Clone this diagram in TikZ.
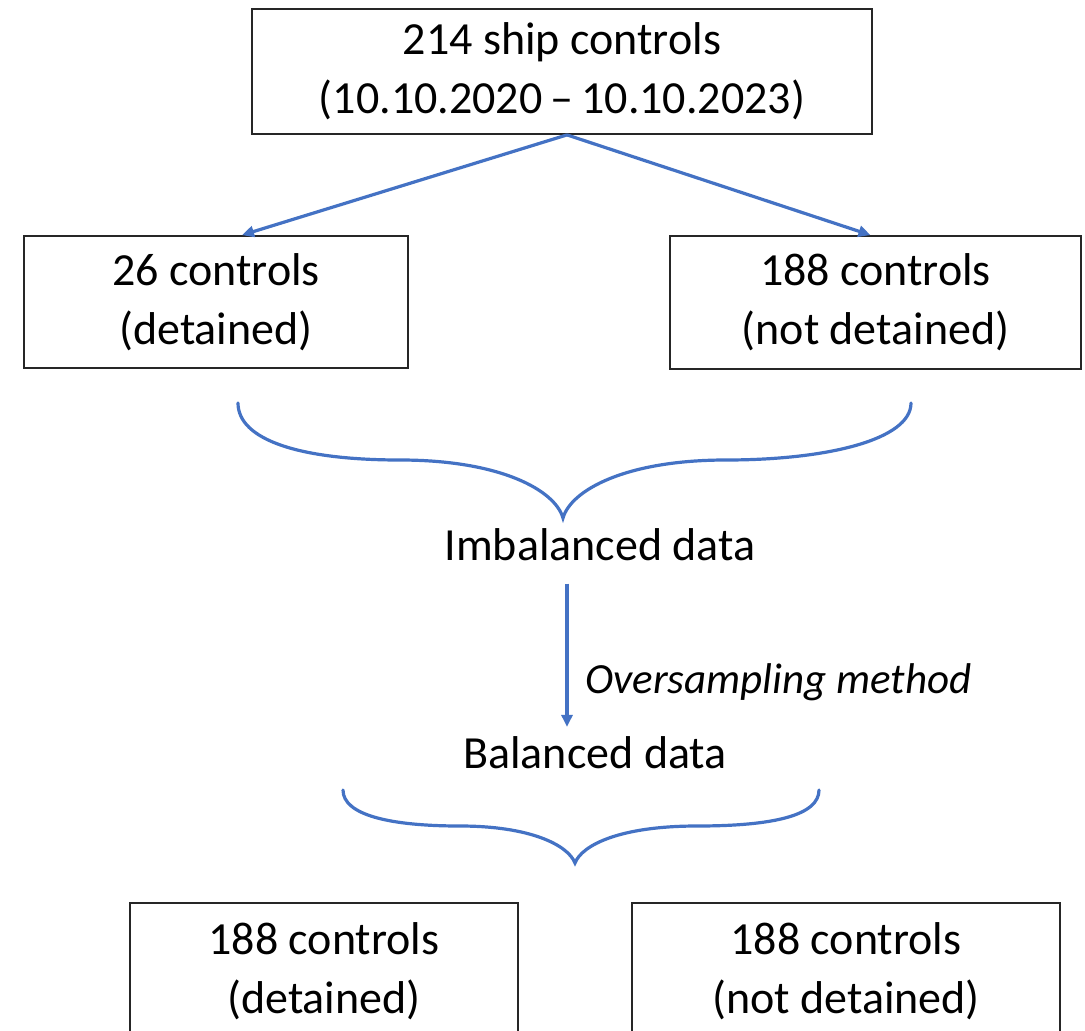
\documentclass[tikz,border=0pt]{standalone}
\usepackage{fontspec}
\setmainfont{Carlito}
\usetikzlibrary{arrows.meta}
\definecolor{flowblue}{RGB}{68,114,196}
\begin{document}
\begin{tikzpicture}[x=1pt,y=-1pt,
  box/.style={draw=black!85, line width=1.8pt, align=center, inner sep=0pt, font=\fontsize{46}{59}\selectfont},
  lbl/.style={inner sep=0pt, font=\fontsize{46}{59}\selectfont},
  conn/.style={draw=flowblue, line width=3.2pt, -{Triangle[length=12pt,width=11pt]}},
  bracestyle/.style={draw=flowblue, line width=3.2pt, line cap=round}]
\clip (0,0) rectangle (1085,1031);
\fill[white] (0,0) rectangle (1085,1031);
% boxes
\node[box, minimum width=620, minimum height=125] (top) at (562,71.5) {214 ship controls\\(10.10.2020\hspace{8pt}–\hspace{8pt}10.10.2023)};
\node[box, minimum width=384, minimum height=132] (ml) at (216,302) {26 controls\\(detained)};
\node[box, minimum width=411, minimum height=133] (mr) at (875.5,302.5) {188 controls\\(not detained)};
\node[box, minimum width=388, minimum height=137] (bl) at (324,971.5) {188 controls\\(detained)};
\node[box, minimum width=428, minimum height=137] (br) at (846,971.5) {188 controls\\(not detained)};
% labels
\node[lbl, anchor=base] (imb) at (600,560) {Imbalanced data};
\node[lbl, anchor=base] (bal) at (595,768) {Balanced data};
\node[lbl, font=\fontsize{43}{50}\selectfont\itshape, anchor=base west] (ovs) at (585,693) {Oversampling method};
% connectors
\draw[conn] ([xshift=5pt]top.south) -- ([xshift=26pt]ml.north);
\draw[conn] ([xshift=5pt]top.south) -- ([xshift=-5pt]mr.north);
\draw[conn] ([shift={(-33,23)}]imb.south) -- ([shift={(-28,-9)}]bal.north);
% braces
\draw[bracestyle] (238,403) .. controls (238,440) and (300,460) .. (400,460)
  .. controls (500,460) and (555,490) .. (563,518)
  .. controls (571,490) and (626,460) .. (726,460)
  .. controls (826,460) and (911,440) .. (911,403);
\draw[bracestyle] (343,790) .. controls (343,815) and (390,826) .. (460,826)
  .. controls (530,826) and (568,845) .. (575,863)
  .. controls (582,845) and (620,826) .. (697,826)
  .. controls (775,826) and (819,815) .. (819,790);
\end{tikzpicture}
\end{document}
